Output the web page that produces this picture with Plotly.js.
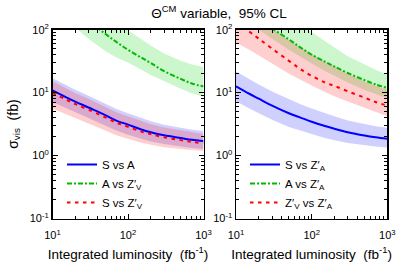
<!DOCTYPE html>
<html><head><meta charset="utf-8">
<script src="https://cdn.plot.ly/plotly-3.0.1.min.js"></script>
<style>html,body{margin:0;padding:0;background:#fff}#plot{width:399px;height:266px}</style>
</head><body><div id="plot"></div>
<script>
// Integrated luminosity (fb^-1)
const lumi = [10, 15, 20, 30, 50, 70, 100, 150, 200, 300, 500, 700, 1000];

// Left panel (Z'_V hypotheses)
const leftSvsA      = [10.9, 8.5, 7.2, 5.8, 4.4, 3.6, 3.1, 2.6, 2.35, 2.1, 1.9, 1.78, 1.7];
const leftSvsA_hi   = [17.0, 13.2, 11.1, 8.9, 6.7, 5.5, 4.7, 3.9, 3.5, 3.1, 2.75, 2.58, 2.45];
const leftSvsA_lo   = [7.1, 5.6, 4.8, 3.9, 3.0, 2.5, 2.15, 1.85, 1.68, 1.52, 1.4, 1.32, 1.27];
const leftAvsZV     = [380, 256, 197, 137, 86, 64, 48, 36, 29.5, 22, 16.5, 14, 12.5];
const leftAvsZV_hi  = [800, 530, 400, 270, 170, 128, 98, 70, 56, 42, 32, 28, 25.5];
const leftAvsZV_lo  = [180, 132, 108, 72, 46, 36, 30, 23, 19, 15, 11.5, 9.8, 8.6];
const leftSvsZV     = [9.9, 7.8, 6.6, 5.35, 4.05, 3.33, 2.87, 2.4, 2.19, 1.95, 1.76, 1.65, 1.57];
const leftSvsZV_hi  = [15.1, 11.8, 9.9, 8.0, 6.0, 4.9, 4.2, 3.5, 3.15, 2.8, 2.5, 2.32, 2.2];
const leftSvsZV_lo  = [5.6, 4.5, 3.9, 3.2, 2.5, 2.1, 1.85, 1.6, 1.48, 1.36, 1.27, 1.22, 1.18];

// Right panel (Z'_A hypotheses)
const rightSvsZA     = [12.6, 9.6, 8.0, 6.2, 4.7, 4.05, 3.45, 2.95, 2.67, 2.35, 2.08, 1.95, 1.85];
const rightSvsZA_hi  = [21.7, 16.3, 13.5, 10.4, 7.8, 6.6, 5.6, 4.7, 4.2, 3.6, 3.15, 2.93, 2.77];
const rightSvsZA_lo  = [7.3, 5.6, 4.7, 3.7, 2.85, 2.5, 2.2, 1.9, 1.75, 1.58, 1.45, 1.39, 1.34];
const rightAvsZA     = [280, 195, 150, 105, 70, 53, 40, 31, 26, 20.5, 15.8, 13.5, 11.9];
const rightAvsZA_hi  = [650, 440, 330, 230, 155, 118, 92, 65, 52, 38, 28, 23, 19.2];
const rightAvsZA_lo  = [140, 115, 100, 72, 48, 37, 29, 22, 18.5, 14.5, 11, 9.5, 8.2];
const rightZVvsZA    = [130, 93, 72, 50, 32, 24, 18.5, 14.5, 12.8, 10.5, 8.3, 7.1, 6.2];
const rightZVvsZA_hi = [260, 185, 145, 102, 68, 53, 41, 31, 26, 20, 15, 12.8, 11.1];
const rightZVvsZA_lo = [62, 48, 39, 29, 20, 16, 13, 10.2, 8.8, 7.2, 5.7, 4.9, 4.2];

const xTickVals = [10, 100, 1000];
const xTickText = ['10<sup>1</sup>', '10<sup>2</sup>', '10<sup>3</sup>'];
const yTickVals = [0.1, 1, 10, 100];
const yTickText = ['10<sup>-1</sup>', '10<sup>0</sup>', '10<sup>1</sup>', '10<sup>2</sup>'];

const BLUE = '#0000ff', GREEN = '#00bb00', RED = '#ff0000';
const FBLUE = 'rgba(40,40,255,0.22)', FGREEN = 'rgba(0,210,0,0.2)', FRED = 'rgba(255,30,30,0.22)';

function band(hi, lo, fill, xa, ya) {
  return {x: lumi.concat(lumi.slice().reverse()), y: hi.concat(lo.slice().reverse()),
    xaxis: xa, yaxis: ya, type: 'scatter', mode: 'lines', fill: 'toself', fillcolor: fill,
    line: {width: 0, color: 'rgba(0,0,0,0)'}, showlegend: false, hoverinfo: 'skip'};
}
function line(y, name, color, dash, xa, ya, leg) {
  return {x: lumi, y: y, xaxis: xa, yaxis: ya, type: 'scatter', mode: 'lines', name: name,
    line: {color: color, width: 2, dash: dash, shape: 'spline'}, legend: leg};
}

const DASHDOT = '5px,2px,2px,2px', DASH = '3.5px,4.5px';
const traces = [
  band(leftAvsZV_hi, leftAvsZV_lo, FGREEN, 'x', 'y'),
  band(leftSvsA_hi, leftSvsA_lo, FBLUE, 'x', 'y'),
  band(leftSvsZV_hi, leftSvsZV_lo, FRED, 'x', 'y'),
  line(leftSvsA, 'S vs A', BLUE, 'solid', 'x', 'y', 'legend'),
  line(leftAvsZV, "A vs Z&#8242;<sub>V</sub>", GREEN, DASHDOT, 'x', 'y', 'legend'),
  line(leftSvsZV, "S vs Z&#8242;<sub>V</sub>", RED, DASH, 'x', 'y', 'legend'),
  band(rightAvsZA_hi, rightAvsZA_lo, FGREEN, 'x2', 'y2'),
  band(rightSvsZA_hi, rightSvsZA_lo, FBLUE, 'x2', 'y2'),
  band(rightZVvsZA_hi, rightZVvsZA_lo, FRED, 'x2', 'y2'),
  line(rightSvsZA, "S vs Z&#8242;<sub>A</sub>", BLUE, 'solid', 'x2', 'y2', 'legend2'),
  line(rightAvsZA, "A vs Z&#8242;<sub>A</sub>", GREEN, DASHDOT, 'x2', 'y2', 'legend2'),
  line(rightZVvsZA, "Z&#8242;<sub>V</sub> vs Z&#8242;<sub>A</sub>", RED, DASH, 'x2', 'y2', 'legend2')
];

const W = 399, H = 266;
const fnt = {family: 'Liberation Sans, Arial, sans-serif', size: 11, color: '#000'};
function xax(d0, d1, anchor) {
  return {type: 'log', range: [1, 3], domain: [d0 / W, d1 / W], anchor: anchor,
    tickmode: 'array', tickvals: xTickVals, ticktext: xTickText, ticks: 'inside', ticklen: 5,
    tickwidth: 1, tickcolor: '#000', mirror: 'allticks', showline: true, linecolor: '#000', linewidth: 1.5,
    showgrid: false, zeroline: false, tickfont: fnt, ticklabelstandoff: 6,
    minor: {tickmode: 'array', tickvals: [20,30,40,50,60,70,80,90,200,300,400,500,600,700,800,900],
      ticks: 'inside', ticklen: 3, tickcolor: '#000', tickwidth: 1, showgrid: false},
    title: {text: 'Integrated luminosity  (fb<sup>-1</sup>)', font: {family: fnt.family, size: 13.5, color: '#000'}, standoff: 9}};
}
function yax(anchor, showTitle) {
  return {type: 'log', range: [-1, 2], domain: [1 - 218.5 / H, 1 - 29.7 / H], anchor: anchor,
    tickmode: 'array', tickvals: yTickVals, ticktext: yTickText, ticks: 'inside', ticklen: 5,
    tickwidth: 1, tickcolor: '#000', mirror: 'allticks', showline: true, linecolor: '#000', linewidth: 1.5,
    showgrid: false, zeroline: false, tickfont: fnt,
    minor: {tickmode: 'array', tickvals: [0.2,0.3,0.4,0.5,0.6,0.7,0.8,0.9,2,3,4,5,6,7,8,9,20,30,40,50,60,70,80,90],
      ticks: 'inside', ticklen: 3, tickcolor: '#000', tickwidth: 1, showgrid: false},
    title: showTitle ? {text: '&#963;<sub>vis</sub>  (fb)', font: {family: fnt.family, size: 14, color: '#000'}, standoff: 8} : {text: ''}};
}
const legBase = {bgcolor: 'rgba(0,0,0,0)', borderwidth: 0, font: {family: fnt.family, size: 11.5, color: '#000'},
  xanchor: 'left', yanchor: 'top', tracegroupgap: 0, itemwidth: 30};

const layout = {
  width: W, height: H, margin: {l: 0, r: 0, t: 0, b: 0}, paper_bgcolor: '#fff', plot_bgcolor: 'rgba(0,0,0,0)',
  showlegend: true,
  title: {text: '&#920;<sup>CM</sup> variable,  95% CL', x: 219 / W, xanchor: 'center', y: 1 - 13 / H, yanchor: 'middle',
    font: {family: fnt.family, size: 13.5, color: '#000'}},
  xaxis: xax(52.5, 203.5, 'y'), yaxis: yax('x', true),
  xaxis2: xax(236, 387.3, 'y2'), yaxis2: yax('x2', false),
  legend: Object.assign({x: 62 / W, y: 1 - 150 / H}, legBase),
  legend2: Object.assign({x: 245 / W, y: 1 - 150 / H}, legBase)
};
Plotly.newPlot('plot', traces, layout, {staticPlot: true, displayModeBar: false});
</script></body></html>
